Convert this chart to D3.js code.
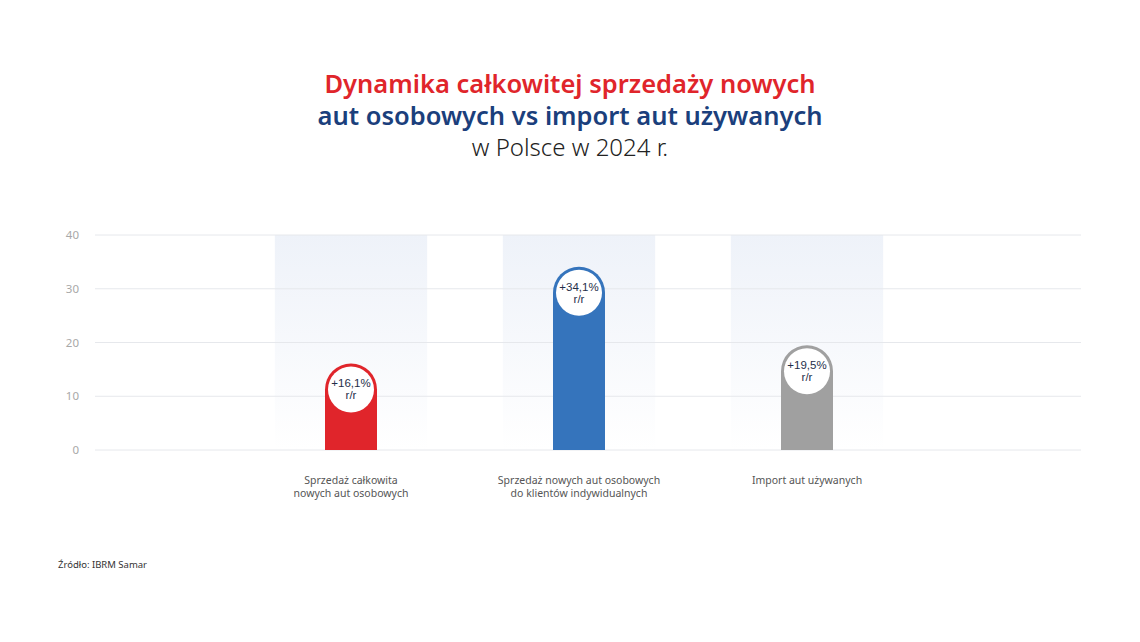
<!DOCTYPE html>
<html><head><meta charset="utf-8">
<script src="https://cdn.jsdelivr.net/npm/d3@7"></script>
<style>body{margin:0;background:#fff;} svg{display:block;}</style>
</head><body>
<svg id="c" width="1140" height="642"></svg>
<script>
const categories = [["Sprzedaż całkowita","nowych aut osobowych"],["Sprzedaż nowych aut osobowych","do klientów indywidualnych"],["Import aut używanych"]];
const values = [16.1, 34.1, 19.5];
const labels = ["+16,1%", "+34,1%", "+19,5%"];
const colors = ["#e0252b", "#3574bc", "#a0a0a0"];
const yTicks = [0, 10, 20, 30, 40];

const svg = d3.select("#c");
const font = "'Noto Sans', 'Open Sans', sans-serif";
const y = d3.scaleLinear().domain([0, 40]).range([450, 235]);
const x = d3.scaleBand().domain(d3.range(categories.length)).range([237, 921]).paddingInner(0.332).paddingOuter(0.166);
const barW = 52, r = barW/2;

const defs = svg.append("defs");
const g = defs.append("linearGradient").attr("id","bg").attr("x1",0).attr("x2",0).attr("y1",0).attr("y2",1);
g.append("stop").attr("offset","0%").attr("stop-color","#eef2f9");
g.append("stop").attr("offset","100%").attr("stop-color","#ffffff");

// title
const titleLines = [
  {text:"Dynamika całkowitej sprzedaży nowych", y:93, size:25.5, weight:600, fill:"#e0252b"},
  {text:"aut osobowych vs import aut używanych", y:125, size:25.5, weight:600, fill:"#1b3f7c"},
  {text:"w Polsce w 2024 r.", y:156, size:24, weight:300, fill:"#222"}
];
svg.selectAll("text.title").data(titleLines).join("text").attr("class","title")
  .attr("x",570).attr("y",d=>d.y).attr("text-anchor","middle").attr("font-family",font)
  .attr("font-size",d=>d.size).attr("font-weight",d=>d.weight).attr("fill",d=>d.fill).text(d=>d.text);

// background bands
svg.selectAll("rect.band").data(values).join("rect").attr("class","band")
  .attr("x",(d,i)=>x(i)).attr("width",x.bandwidth())
  .attr("y",y(40)).attr("height",y(0)-y(40)).attr("fill","url(#bg)");

// grid
svg.selectAll("line.grid").data(yTicks).join("line").attr("class","grid")
  .attr("x1",95).attr("x2",1081).attr("y1",d=>y(d)).attr("y2",d=>y(d))
  .attr("stroke","#e6e8ec").attr("stroke-width",1);
svg.selectAll("text.tick").data(yTicks).join("text").attr("class","tick")
  .attr("x",79).attr("y",d=>y(d)+4).attr("text-anchor","end")
  .attr("font-family",font).attr("font-size",11.5).attr("fill","#a8a8a8").text(d=>d);

// bars with rounded top
const cx = i => x(i) + x.bandwidth()/2;
svg.selectAll("path.bar").data(values).join("path").attr("class","bar")
  .attr("fill",(d,i)=>colors[i])
  .attr("d",(d,i)=>{
    const l = cx(i)-r, rr = cx(i)+r, top = y(d), b = y(0);
    return `M${l},${b}L${l},${top+r}A${r},${r} 0 0 1 ${rr},${top+r}L${rr},${b}Z`;
  });
svg.selectAll("circle.lab").data(values).join("circle").attr("class","lab")
  .attr("cx",(d,i)=>cx(i)).attr("cy",d=>y(d)+r).attr("r",r-3).attr("fill","#fff");
svg.selectAll("text.val").data(values).join("text").attr("class","val")
  .attr("text-anchor","middle").attr("font-family","'Liberation Sans', Arial, sans-serif").attr("font-size",11.5).attr("fill","#1f2f4a")
  .each(function(d,i){
    const s = d3.select(this);
    s.append("tspan").attr("x",cx(i)).attr("y",y(d)+r-2).text(labels[i]);
    s.append("tspan").attr("x",cx(i)).attr("y",y(d)+r+10).text("r/r");
  });

// category labels
svg.selectAll("text.cat").data(categories).join("text").attr("class","cat")
  .attr("text-anchor","middle").attr("font-family",font).attr("font-size",10.5).attr("fill","#555")
  .each(function(d,i){
    const s = d3.select(this);
    d.forEach((line,j)=>s.append("tspan").attr("x",cx(i)).attr("y",484+j*13).text(line));
  });

// source
svg.append("text").attr("x",58).attr("y",568).attr("font-family",font).attr("font-size",9.5).attr("fill","#333").text("Źródło: IBRM Samar");
</script>
</body></html>
